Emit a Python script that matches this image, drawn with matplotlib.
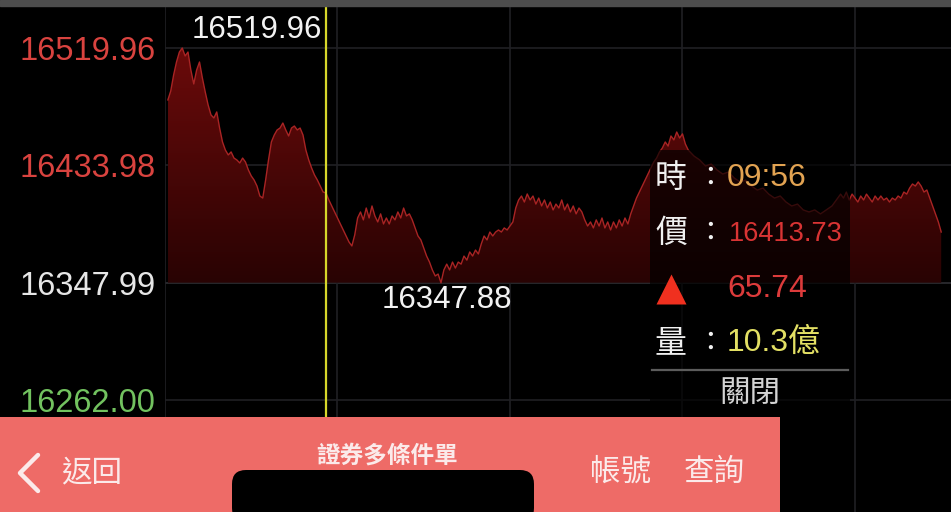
import numpy as np
import matplotlib.pyplot as plt
from matplotlib.patches import Rectangle, FancyBboxPatch

# minutes after 09:00 and index price
minutes = [1, 2, 3, 4, 5, 6, 7, 8, 9, 10, 11, 12, 13, 14, 15, 16, 17, 18, 19, 20,
           21, 22, 23, 24, 25, 26, 27, 28, 29, 30, 31, 32, 33, 34, 35, 36, 37, 38, 39, 40,
           41, 42, 43, 44, 45, 46, 47, 48, 49, 50, 51, 52, 53, 54, 55, 56, 57, 58, 59, 60,
           61, 62, 63, 64, 65, 66, 67, 68, 69, 70, 71, 72, 73, 74, 75, 76, 77, 78, 79, 80,
           81, 82, 83, 84, 85, 86, 87, 88, 89, 90, 91, 92, 93, 94, 95, 96, 97, 98, 99, 100,
           101, 102, 103, 104, 105, 106, 107, 108, 109, 110, 111, 112, 113, 114, 115, 116, 117, 118, 119, 120,
           121, 122, 123, 124, 125, 126, 127, 128, 129, 130, 131, 132, 133, 134, 135, 136, 137, 138, 139, 140,
           141, 142, 143, 144, 145, 146, 147, 148, 149, 150, 151, 152, 153, 154, 155, 156, 157, 158, 159, 160,
           161, 162, 163, 164, 165, 166, 167, 168, 169, 170, 171, 172, 173, 174, 175, 176, 177, 178, 179, 180,
           181, 182, 184, 186, 188, 190, 192, 194, 196, 198, 200, 202, 204, 206, 208, 210, 212, 214, 216, 218,
           220, 222, 224, 226, 228, 230, 232, 234, 235, 236, 237, 238, 239, 240, 241, 242, 243, 244, 245, 246,
           247, 248, 249, 250, 251, 252, 253, 254, 255, 256, 257, 258, 259, 260, 261, 262, 263, 264, 265, 266,
           267, 268, 269, 270]
prices = [16481.9, 16488.5, 16500.2, 16509.7, 16517.0, 16519.96, 16514.1, 16517.0, 16503.8, 16493.6,
          16503.8, 16509.7, 16498.0, 16487.7, 16478.2, 16470.9, 16468.7, 16473.1, 16461.3, 16451.1,
          16445.2, 16441.6, 16443.8, 16439.3, 16437.9, 16435.7, 16439.3, 16436.4, 16430.6, 16426.2,
          16423.2, 16418.8, 16411.5, 16410.0, 16423.2, 16437.9, 16451.1, 16456.2, 16459.9, 16461.3,
          16465.0, 16459.9, 16455.5, 16461.3, 16462.8, 16459.9, 16461.3, 16456.2, 16445.2, 16437.9,
          16432.0, 16426.9, 16423.2, 16418.8, 16414.4, 16413.73, 16408.6, 16404.2, 16399.8, 16395.4,
          16391.0, 16386.6, 16382.2, 16377.8, 16374.9, 16383.0, 16395.4, 16399.8, 16394.0, 16402.7,
          16395.4, 16404.2, 16396.9, 16392.5, 16398.4, 16391.0, 16395.4, 16391.0, 16396.9, 16394.0,
          16399.8, 16395.4, 16402.7, 16396.9, 16398.4, 16394.0, 16388.1, 16382.2, 16379.3, 16373.4,
          16367.5, 16363.1, 16357.3, 16352.9, 16354.3, 16347.88, 16357.3, 16361.6, 16357.3, 16363.1,
          16358.7, 16363.1, 16361.6, 16367.5, 16364.5, 16370.5, 16367.5, 16371.9, 16369.0, 16376.3,
          16382.2, 16379.3, 16385.1, 16382.2, 16385.1, 16386.6, 16385.1, 16388.1, 16386.6, 16389.5,
          16392.5, 16402.7, 16408.6, 16411.5, 16407.1, 16413.0, 16408.6, 16411.5, 16405.6, 16410.0,
          16404.2, 16408.6, 16402.7, 16407.1, 16401.3, 16405.6, 16402.7, 16408.6, 16401.3, 16405.6,
          16399.8, 16404.2, 16398.4, 16402.7, 16399.8, 16394.0, 16389.5, 16392.5, 16388.1, 16394.0,
          16389.5, 16395.4, 16388.1, 16392.5, 16386.6, 16392.5, 16388.1, 16394.0, 16389.5, 16395.4,
          16391.0, 16398.4, 16404.2, 16410.0, 16414.4, 16418.8, 16423.2, 16427.6, 16432.0, 16436.4,
          16439.3, 16443.8, 16446.7, 16451.1, 16448.1, 16455.5, 16452.6, 16458.4, 16454.0, 16457.0,
          16449.6, 16445.2, 16440.8, 16437.9, 16433.5, 16434.9, 16430.6, 16427.6, 16429.1, 16424.7,
          16421.8, 16423.2, 16418.8, 16415.9, 16417.3, 16412.9, 16410.0, 16411.5, 16407.1, 16404.2,
          16405.6, 16401.3, 16399.8, 16401.3, 16398.4, 16401.3, 16404.2, 16410.0, 16412.9, 16410.0,
          16414.4, 16408.6, 16412.9, 16410.0, 16407.1, 16411.5, 16408.6, 16412.9, 16410.0, 16407.1,
          16411.5, 16408.6, 16411.5, 16408.6, 16410.0, 16407.1, 16410.0, 16408.6, 16411.5, 16410.0,
          16414.4, 16412.9, 16417.3, 16420.3, 16418.8, 16421.8, 16418.8, 16414.4, 16415.9, 16410.0,
          16404.2, 16398.4, 16392.5, 16385.1]

prev_close = 16347.99
levels = [16519.96, 16433.98, 16347.99, 16262.00]
level_colors = ["#d9433f", "#d9433f", "#e6e6e6", "#72c25f"]
hour_marks = [0, 60, 120, 180, 240]

cursor_min = 56
tip_time = "09:56"
tip_price = "16413.73"
tip_change = "65.74"
tip_volume = "10.3億"

NUM = ["Liberation Sans", "Noto Sans CJK TC"]
CJK = ["Noto Sans CJK TC", "DejaVu Sans"]

t = np.array(minutes, dtype=float)
p = np.array(prices)

fig = plt.figure(figsize=(9.51, 5.12), dpi=100, facecolor="black")

# main chart area
ax = fig.add_axes([165 / 951, 0, 786 / 951, 506 / 512], facecolor="black")
ax.set_xlim(0, 273.4)
ax.set_ylim(16179.93, 16550.74)
for s in ax.spines.values():
    s.set_visible(False)

ax.set_xticks(hour_marks)
ax.set_xticklabels([])
ax.tick_params(axis="x", length=0)
ax.set_yticks(levels)
ax.set_yticklabels([f"{v:.2f}" for v in levels])
ax.tick_params(axis="y", length=0, pad=7)
for lab, c in zip(ax.get_yticklabels(), level_colors):
    lab.set_color(c)
    lab.set_fontsize(23.5)
    lab.set_family(NUM)
ax.grid(True, color="#202024", lw=1.2)
ax.axhline(prev_close, color="#4e4e52", lw=1.3, zorder=1)

# gradient area under the price line
poly = ax.fill_between(t, p, prev_close, facecolor="none", edgecolor="none")
grad = np.linspace(0, 1, 256).reshape(-1, 1)
top_c = np.array([0.42, 0.04, 0.04])
bot_c = np.array([0.16, 0.012, 0.012])
img = top_c * grad[..., None] + bot_c * (1 - grad[..., None])
im = ax.imshow(img, aspect="auto", origin="lower",
               extent=[t.min(), t.max(), prev_close, p.max()], zorder=2)
im.set_clip_path(poly.get_paths()[0], transform=ax.transData)
ax.plot(t, p, color="#a82424", lw=1.0, zorder=3)

ax.axvline(cursor_min, color="#d6d62a", lw=1.6, zorder=4)

i_hi = int(np.argmax(p))
i_lo = int(np.argmin(p))
ax.annotate(f"{p[i_hi]:.2f}", (t[i_hi], p[i_hi]), xytext=(75, 18),
            textcoords="offset pixels", ha="center", va="center",
            color="#f2f2f2", fontsize=22.5, family=NUM, zorder=5)
ax.annotate(f"{p[i_lo]:.2f}", (t[i_lo], p[i_lo]), xytext=(6, -17),
            textcoords="offset pixels", ha="center", va="center",
            color="#f2f2f2", fontsize=22.5, family=NUM, zorder=5)

# overlay in pixel space for the tooltip and the app banner
ov = fig.add_axes([0, 0, 1, 1], facecolor="none")
ov.set_xlim(0, 951)
ov.set_ylim(512, 0)
ov.axis("off")

ov.add_patch(Rectangle((0, 0), 951, 6, color="#4d4d4d"))

ov.add_patch(Rectangle((650, 150), 200, 268, color="black", alpha=0.68, lw=0))
ov.plot([652, 848], [370, 370], color="#5c5c5c", lw=1.6)
rows = [(178, "時"), (233, "價"), (343, "量")]
for y, ch in rows:
    ov.text(671, y, ch, color="#f0f0f0", fontsize=23, family=CJK, ha="center", va="center")
    ov.text(710, y, "：", color="#f0f0f0", fontsize=20, family=CJK, ha="center", va="center")
ov.text(727, 178, tip_time, color="#e2a352", fontsize=23, family=NUM, va="center")
ov.text(729, 234, tip_price, color="#d93434", fontsize=19.5, family=NUM, va="center")
ov.plot([671], [289], marker="^", ms=21, color="#f0301f", mec="none")
ov.text(727, 289, tip_change, color="#dc3b3b", fontsize=23, family=NUM, va="center")
ov.text(727, 343, tip_volume, color="#e3e064", fontsize=23, family=NUM, va="center")
ov.text(750, 393, "關閉", color="#d4d4d4", fontsize=22, family=CJK, ha="center", va="center")

ov.add_patch(Rectangle((0, 417), 780, 95, color="#ee6b67", lw=0))
ov.plot([38, 20, 38], [455, 473, 491], color="#fbeaea", lw=3.2, solid_capstyle="round")
ov.text(92, 473, "返回", color="#fbeaea", fontsize=22, family=CJK, ha="center", va="center")
ov.text(387, 456, "證券多條件單", color="#fbeaea", fontsize=17, family=CJK,
        ha="center", va="center", fontweight="bold")
ov.add_patch(FancyBboxPatch((236, 474), 294, 44, boxstyle="round,pad=4,rounding_size=14",
                            color="black", lw=0))
ov.text(621, 472, "帳號", color="#fbeaea", fontsize=22, family=CJK, ha="center", va="center")
ov.text(714, 472, "查詢", color="#fbeaea", fontsize=22, family=CJK, ha="center", va="center")

fig.savefig("out.png", dpi=100, facecolor="black")
